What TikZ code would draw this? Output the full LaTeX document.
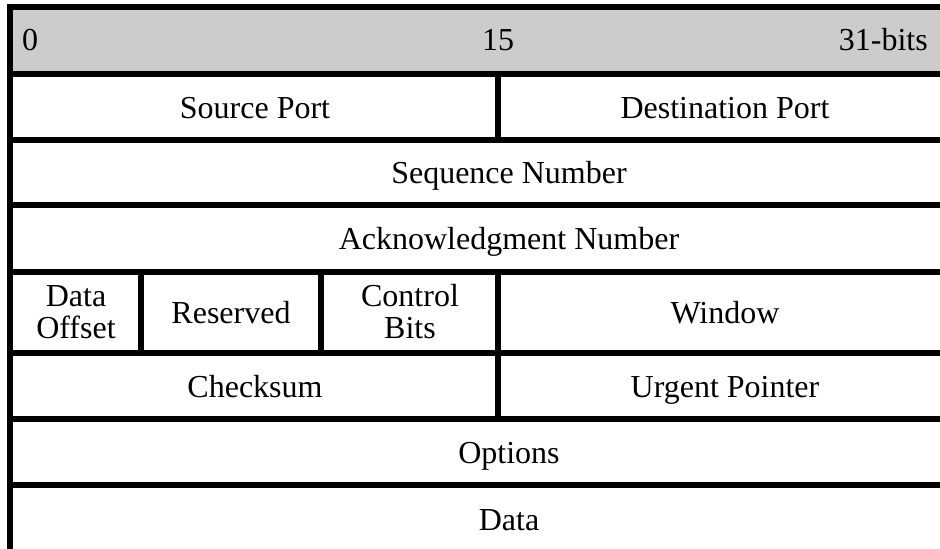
\documentclass[tikz,border=0pt]{standalone}
\usepackage{fontspec}
\setmainfont{Liberation Serif}
\usetikzlibrary{positioning}
\definecolor{HeadGray}{HTML}{CCCCCC}
\tikzset{rule/.style={line width=6pt,draw=black},field/.style={font=\fontsize{32}{32}\selectfont,align=center,inner sep=0pt},oneline/.style={field,anchor=base},bitno/.style={font=\fontsize{32}{32}\selectfont,inner sep=0pt}}

\begin{document}
\begin{tikzpicture}[x=1pt,y=-1pt]
      \useasboundingbox(0,0)rectangle(940,549);
      \fill[HeadGray](13,10)rectangle(940,71);
      % bit numbers
      \node[bitno,anchor=base west](bit0)at(22,50){0};
      \node[bitno,anchor=base](bit15)at(498,50){15};
      \node[bitno,anchor=base east](bit31)at(928,50){31-bits};
      % header fields
      \node[oneline](src)at(255,118){Source Port};
      \node[oneline](dst)at(725,118){Destination Port};
      \node[oneline](seq)at(509,183.5){Sequence Number};
      \node[oneline](ack)at(509,249){Acknowledgment Number};
      \node[field](off)at(76,312){Data\\Offset};
      \node[oneline](res)at(231,323){Reserved};
      \node[field](ctl)at(410,312){Control\\Bits};
      \node[oneline](win)at(725,323){Window};
      \node[oneline](sum)at(255,397){Checksum};
      \node[oneline](urg)at(725,397){Urgent Pointer};
      \node[oneline](opt)at(509,463){Options};
      \node[oneline](dat)at(509,530){Data};
      % rules
      \foreach \y in {7,73.5,140,205,271.5,352.5,419,485}
        \draw[rule](10,\y)--(940,\y);
      \draw[rule](10,4)--(10,549);
      \draw[rule](498,73.5)--(498,140);
      \foreach \x in {141,321}
        \draw[rule](\x,271.5)--(\x,352.5);
      \draw[rule](498,271.5)--(498,419);
    \end{tikzpicture}
\end{document}
